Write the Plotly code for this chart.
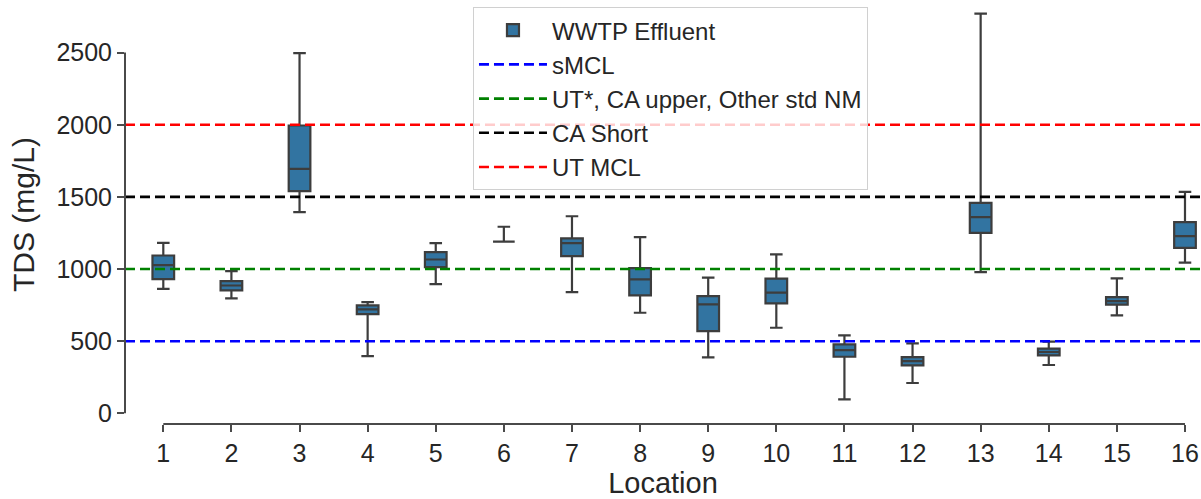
import plotly.graph_objects as go

# ---- data ----
locations = list(range(1, 17))
q1 =      [930, 852, 1540, 688, 1013, 1190, 1089, 817, 570, 762, 392, 332, 1251, 402, 753, 1147]
median =  [1027, 886, 1694, 720, 1066, 1190, 1180, 928, 755, 836, 438, 362, 1360, 425, 778, 1228]
q3 =      [1094, 916, 1995, 748, 1117, 1190, 1212, 1006, 812, 933, 478, 390, 1459, 448, 806, 1325]
lower =   [863, 796, 1394, 397, 896, 1190, 840, 697, 388, 593, 97, 210, 979, 335, 679, 1044]
upper =   [1182, 985, 2497, 771, 1180, 1293, 1366, 1221, 940, 1101, 540, 485, 2770, 497, 935, 1535]

std_names = ["sMCL", "UT*, CA upper, Other std NM", "CA Short", "UT MCL"]
std_values = [500, 1000, 1500, 2000]
std_colors = ["#0000ff", "#008000", "#000000", "#ff0000"]

y_ticks = [0, 500, 1000, 1500, 2000, 2500]

# axis ranges
X_RANGE = [0.4377, 16.235]
Y_RANGE = [-74, 2830]

EDGE = "#3d3d3d"
AXC = "#4a4a4a"
FONT = "Liberation Sans, Arial, sans-serif"

fig = go.Figure()

fig.add_trace(go.Box(
    x=locations, q1=q1, median=median, q3=q3,
    lowerfence=lower, upperfence=upper,
    name="WWTP Effluent",
    fillcolor="#3274a1",
    line=dict(color=EDGE, width=2.2),
    width=0.318,
    whiskerwidth=0.58,
    boxpoints=False,
    showlegend=True,
))

for nm, val, col in zip(std_names, std_values, std_colors):
    fig.add_trace(go.Scatter(
        x=X_RANGE, y=[val, val], mode="lines", name=nm,
        line=dict(color=col, width=2.6, dash="10px,5px"),
        hoverinfo="skip",
    ))

# spines (bounded like seaborn despine/trim)
fig.add_shape(type="line", xref="paper", yref="y", x0=0, x1=0,
              y0=y_ticks[0], y1=y_ticks[-1], line=dict(color=AXC, width=2))
fig.add_shape(type="line", xref="x", yref="paper", x0=locations[0], x1=locations[-1],
              y0=0, y1=0, line=dict(color=AXC, width=2))

fig.update_layout(
    width=1201, height=499,
    margin=dict(l=125, r=0, t=5, b=75),
    paper_bgcolor="white", plot_bgcolor="white",
    font=dict(family=FONT, color="#262626"),
    showlegend=True,
    legend=dict(
        x=0.3234, y=0.995, xanchor="left", yanchor="top",
        bgcolor="rgba(255,255,255,0.8)",
        bordercolor="#d0d0d0", borderwidth=1,
        font=dict(size=24, family=FONT, color="#262626"),
        itemwidth=68,
    ),
    xaxis=dict(
        range=X_RANGE, tickmode="array", tickvals=locations,
        ticktext=[str(v) for v in locations],
        showgrid=False, zeroline=False, showline=False,
        ticks="outside", ticklen=7, tickwidth=2, tickcolor=AXC,
        tickfont=dict(size=25),
        title=dict(text="Location", font=dict(size=29), standoff=6),
        automargin=False,
    ),
    yaxis=dict(
        range=Y_RANGE, tickmode="array", tickvals=y_ticks,
        showgrid=False, zeroline=False, showline=False,
        ticks="outside", ticklen=7, tickwidth=2, tickcolor=AXC,
        tickfont=dict(size=25),
        title=dict(text="TDS (mg/L)", font=dict(size=30), standoff=12),
        automargin=False,
    ),
)

fig.write_html("out.html")
